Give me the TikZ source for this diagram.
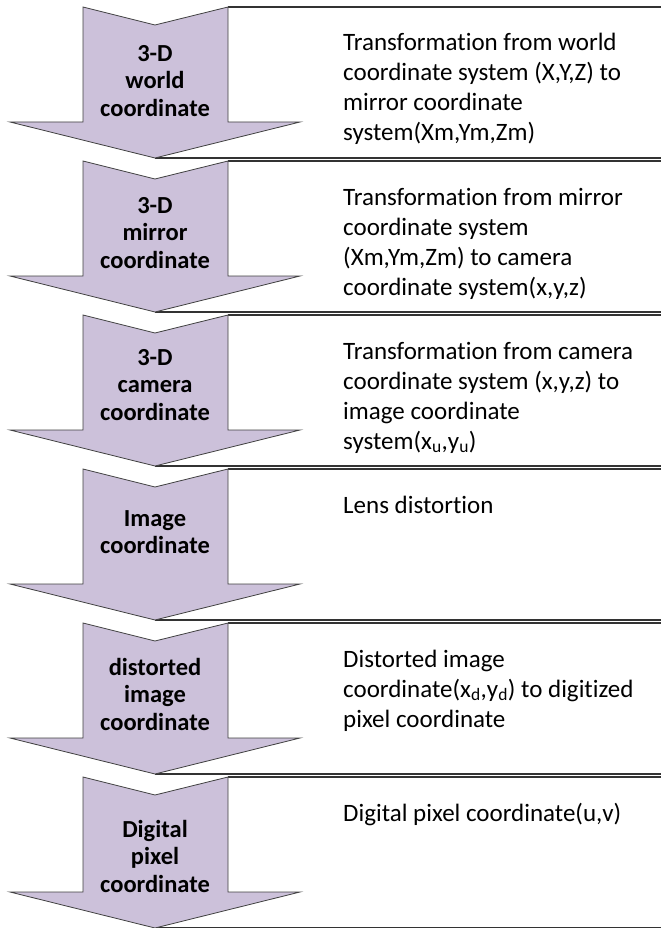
\documentclass[tikz,border=0pt]{standalone}
\usepackage{fontspec}
\setmainfont{Carlito}[Ligatures=NoCommon]
\usepackage{xcolor}
\definecolor{lavender}{RGB}{204,193,218}
\usetikzlibrary{positioning}

\begin{document}
\begin{tikzpicture}[x=1pt,y=-1pt]
    \tikzstyle{chev} = [draw=black!75, fill=lavender, line width=0.8pt, line join=miter]
    \tikzstyle{frame} = [draw=black!80, line width=1.6pt]
    \tikzstyle{stage} = [align=center, text width=140pt, inner sep=0pt, font=\fontsize{24.5}{27.5}\selectfont\bfseries]
    \tikzstyle{desc} = [anchor=base west, align=flush left, text width=310pt, inner sep=0pt, font=\fontsize{25}{30}\selectfont]
    \useasboundingbox (0,0) rectangle (661,928);
    % one row per step: frame, chevron, label and description
    \foreach \i/\dy/\stagetext/\desctext in {
        0/74/{3-D\\world\\coordinate}/{Transformation from world\\coordinate system (X,Y,Z) to\\mirror coordinate\\system(Xm,Ym,Zm)},
        1/72/{3-D\\mirror\\coordinate}/{Transformation from mirror\\coordinate system\\(Xm,Ym,Zm) to camera\\coordinate system(x,y,z)},
        2/70/{3-D\\camera\\coordinate}/{Transformation from camera\\coordinate system (x,y,z) to\\image coordinate\\system(x\textsubscript{u},y\textsubscript{u})},
        3/63/{Image\\coordinate}/{Lens distortion},
        4/71/{distorted\\image\\coordinate}/{Distorted image\\coordinate(x\textsubscript{d},y\textsubscript{d}) to digitized\\pixel coordinate},
        5/79/{Digital\\pixel\\coordinate}/{Digital pixel coordinate(u,v)}} {
        \pgfmathsetmacro{\t}{7+154*\i}
        \coordinate (tip\i) at (155,\t+151);
        \draw[frame] (228,\t) -- (661,\t);
        \draw[frame] (tip\i) -- (661,\t+151);
        \draw[chev] (83,\t) -- (155,\t+18) -- (228,\t) -- (228,\t+115) -- (300,\t+115)
            -- (tip\i) -- (10,\t+115) -- (83,\t+115) -- cycle;
        \node[stage] (stage\i) at (155,\t+\dy) {\stagetext};
        \node[desc] (desc\i) at (343,\t+44) {\desctext};
    }
\end{tikzpicture}
\end{document}
